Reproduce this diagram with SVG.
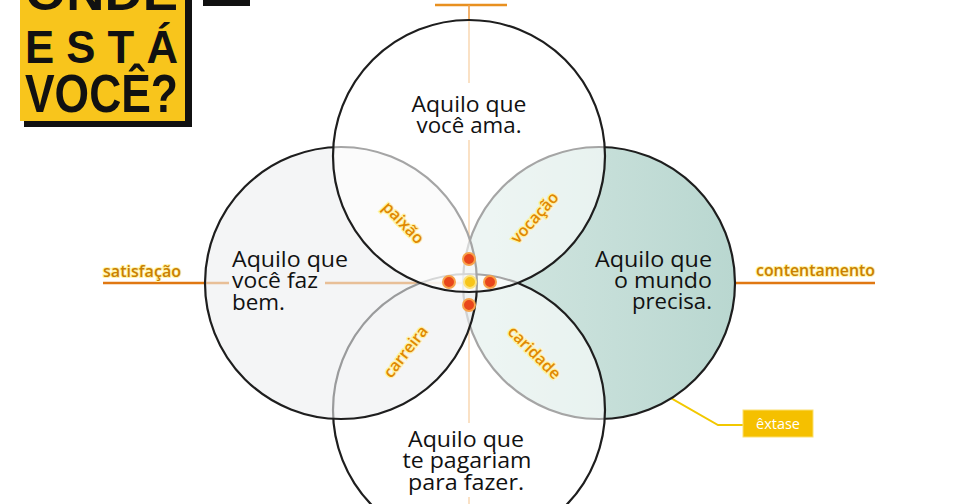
<svg xmlns="http://www.w3.org/2000/svg" width="960" height="504" viewBox="0 0 960 504">
<style>
.circ{stroke:#1e1e1e;stroke-width:2.2}
.main{font-family:"Open Sans","Liberation Sans",sans-serif;font-size:22.5px;font-weight:500;fill:#111}
.region{font-family:"Open Sans","Liberation Sans",sans-serif;font-size:16px;font-weight:600;fill:#e08800;text-anchor:middle;stroke:#fff2a8;stroke-width:2.5;paint-order:stroke}
.axislbl{font-family:"Open Sans","Liberation Sans",sans-serif;font-size:16px;font-weight:600;fill:#c98000;stroke:#fff3a8;stroke-width:2;paint-order:stroke}
.dot{fill:#e8461c;stroke:#f7a24a;stroke-width:2}
.title{font-family:"Liberation Sans",sans-serif;font-weight:bold;fill:#111}
</style>
<defs>
<linearGradient id="teal" x1="0" y1="0" x2="1" y2="0">
<stop offset="0" stop-color="#d4e7e2"/>
<stop offset="1" stop-color="#b9d7d0"/>
</linearGradient>
</defs>
<rect width="960" height="504" fill="#ffffff"/>

<!-- title box -->
<g id="title">
<rect x="24" y="-10" width="168" height="137" fill="#111"/>
<rect x="20" y="-10" width="165" height="131" fill="#f8c51c"/>
<text class="title" x="25" y="10" font-size="50" textLength="153" lengthAdjust="spacingAndGlyphs">ONDE</text>
<text class="title" x="25" y="63" font-size="46" textLength="153" lengthAdjust="spacingAndGlyphs">E S T Á</text>
<text class="title" x="25" y="112" font-size="53" textLength="153" lengthAdjust="spacingAndGlyphs">VOCÊ?</text>
<rect x="203" y="0" width="47" height="6" fill="#111"/>
</g>

<!-- connectors / axes -->
<g id="connectors" fill="none">
<line x1="103" y1="283" x2="229" y2="283" stroke="#e07812" stroke-width="2.6"/>
<line x1="325" y1="283" x2="606" y2="283" stroke="#e07812" stroke-width="2.6"/>
<line x1="718" y1="283" x2="875" y2="283" stroke="#e07812" stroke-width="2.6"/>
<line x1="435" y1="5" x2="507" y2="5" stroke="#e89020" stroke-width="2.6"/>
<line x1="469" y1="5" x2="469" y2="83" stroke="#f0a04a" stroke-width="1.6"/>
<line x1="469" y1="140" x2="469" y2="423" stroke="#f0a04a" stroke-width="1.6"/>
<line x1="469" y1="497" x2="469" y2="504" stroke="#f0a04a" stroke-width="1.6"/>
<polyline points="470,283 718,425 744,425" stroke="#f2c800" stroke-width="2"/>
</g>

<!-- circles -->
<g id="node-mundo">
<circle class="circ" cx="599" cy="283" r="136" fill="url(#teal)"/>
</g>
<g id="node-pagariam">
<circle class="circ" cx="469" cy="410" r="136" fill="#ffffff" fill-opacity="0.6"/>
</g>
<g id="node-fazbem">
<circle class="circ" cx="341" cy="283" r="136" fill="#eceef0" fill-opacity="0.6"/>
</g>
<g id="node-ama">
<circle class="circ" cx="469" cy="156" r="136" fill="#ffffff" fill-opacity="0.6"/>
</g>

<!-- main labels -->
<g id="label-ama" class="main" text-anchor="middle">
<text x="469" y="112" textLength="115" lengthAdjust="spacingAndGlyphs">Aquilo que</text>
<text x="469" y="133" textLength="105" lengthAdjust="spacingAndGlyphs">você ama.</text>
</g>
<g id="label-fazbem" class="main">
<text x="232" y="267" textLength="116" lengthAdjust="spacingAndGlyphs">Aquilo que</text>
<text x="232" y="288" textLength="86" lengthAdjust="spacingAndGlyphs">você faz</text>
<text x="232" y="310" textLength="53" lengthAdjust="spacingAndGlyphs">bem.</text>
</g>
<g id="label-mundo" class="main" text-anchor="end">
<text x="712" y="267" textLength="117" lengthAdjust="spacingAndGlyphs">Aquilo que</text>
<text x="712" y="288" textLength="98" lengthAdjust="spacingAndGlyphs">o mundo</text>
<text x="712" y="309" textLength="80" lengthAdjust="spacingAndGlyphs">precisa.</text>
</g>
<g id="label-pagariam" class="main" text-anchor="middle">
<text x="466" y="447" textLength="116" lengthAdjust="spacingAndGlyphs">Aquilo que</text>
<text x="467" y="468" textLength="129" lengthAdjust="spacingAndGlyphs">te pagariam</text>
<text x="466" y="490" textLength="116" lengthAdjust="spacingAndGlyphs">para fazer.</text>
</g>

<!-- region labels -->
<g id="regions">
<text class="region" transform="translate(403,223) rotate(46)" y="5">paixão</text>
<text class="region" transform="translate(535,218) rotate(-48)" y="5">vocação</text>
<text class="region" transform="translate(406,352) rotate(-52)" y="5">carreira</text>
<text class="region" transform="translate(534,353) rotate(45)" y="5">caridade</text>
</g>

<!-- axis labels -->
<g id="axis-labels">
<text class="axislbl" x="103" y="277" textLength="78" lengthAdjust="spacingAndGlyphs">satisfação</text>
<text class="axislbl" x="756" y="276" textLength="119" lengthAdjust="spacingAndGlyphs">contentamento</text>
</g>

<!-- center dots -->
<g id="dots">
<circle class="dot" cx="469" cy="259" r="6"/>
<circle class="dot" cx="449" cy="282" r="6"/>
<circle class="dot" cx="490" cy="282" r="6"/>
<circle class="dot" cx="469" cy="305" r="6"/>
<circle cx="470" cy="282" r="6" fill="#f7c51a" stroke="#fbe27e" stroke-width="2"/>
</g>

<!-- extase -->
<g id="node-extase">
<rect x="743" y="410" width="70" height="27" fill="#f5c000" stroke="#fbe070" stroke-width="1"/>
<text x="778" y="429" text-anchor="middle" font-family="Open Sans, Liberation Sans, sans-serif" font-size="14.5" fill="#ffffff">êxtase</text>
</g>
</svg>
